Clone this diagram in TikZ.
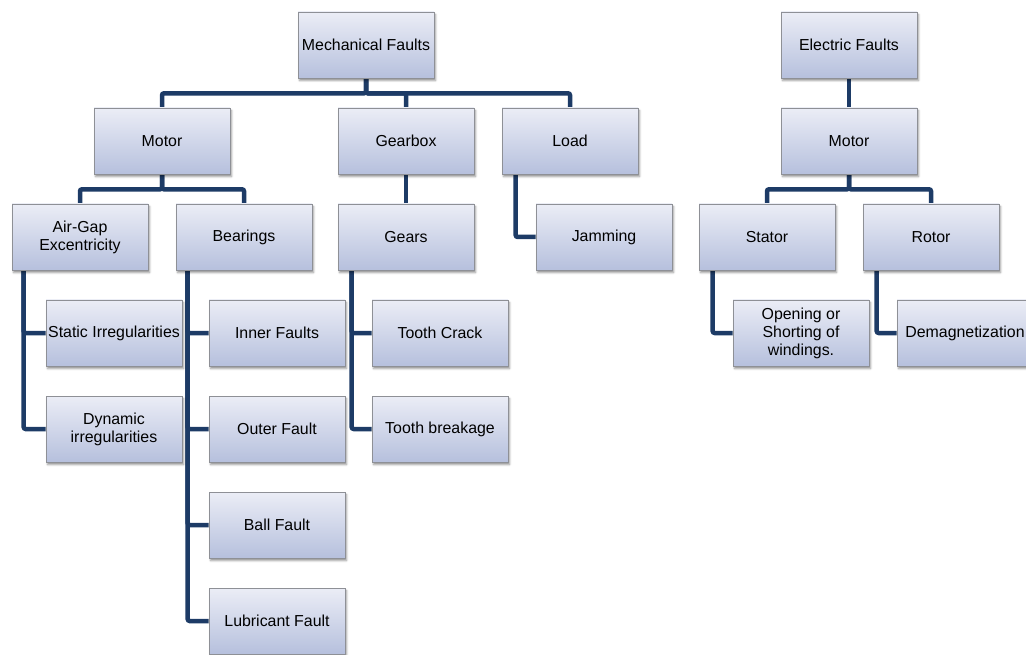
\documentclass[tikz,border=0pt]{standalone}
\usepackage{fontspec}
\setmainfont{Liberation Sans}
\usetikzlibrary{shadows.blur,backgrounds}
\definecolor{boxtop}{HTML}{EBEDF6}
\definecolor{boxbot}{HTML}{B6C0DD}
\definecolor{boxline}{HTML}{8E9096}
\definecolor{link}{HTML}{1D3B66}
\tikzset{
  fault/.style={rectangle, minimum width=136pt, minimum height=66pt, inner sep=0pt,
    draw=boxline, line width=0.6pt, top color=boxtop, bottom color=boxbot,
    align=center, font=\fontsize{15.9}{18}\selectfont,
    blur shadow={shadow xshift=1.5pt, shadow yshift=-2.5pt, shadow blur radius=2pt,
      shadow opacity=45}},
  linkline/.style={draw=link, line width=4.5pt, rounded corners=2pt}
}
\begin{document}
\begin{tikzpicture}[x=1pt, y=-1pt]
\useasboundingbox (0,0) rectangle (1026,655);

% boxes: mechanical branch
\node[fault] (mech)    at (366,45)  {Mechanical Faults};
\node[fault] (motorL)  at (162,141) {Motor};
\node[fault] (gearbox) at (406,141) {Gearbox};
\node[fault] (load)    at (570,141) {Load};
\node[fault] (airgap)  at (80,237)  {Air-Gap\\Excentricity};
\node[fault] (bear)    at (244,237) {Bearings};
\node[fault] (gears)   at (406,237) {Gears};
\node[fault] (jam)     at (604,237) {Jamming};
\node[fault] (static)  at (114,333) {Static Irregularities};
\node[fault] (dynamic) at (114,429) {Dynamic\\irregularities};
\node[fault] (inner)   at (277,333) {Inner Faults};
\node[fault] (outer)   at (277,429) {Outer Fault};
\node[fault] (ball)    at (277,525) {Ball Fault};
\node[fault] (lubr)    at (277,621) {Lubricant Fault};
\node[fault] (crack)   at (440,333) {Tooth Crack};
\node[fault] (brk)     at (440,429) {Tooth breakage};

% boxes: electric branch
\node[fault] (elec)    at (849,45)  {Electric Faults};
\node[fault] (motorR)  at (849,141) {Motor};
\node[fault] (stator)  at (767,237) {Stator};
\node[fault] (rotor)   at (931,237) {Rotor};
\node[fault] (open)    at (801,333) {Opening or\\Shorting of\\windings.};
\node[fault] (demag)   at (965,333) {Demagnetization};

% tree connectors, kept behind the boxes
\begin{scope}[on background layer]
  % top-level bus of the mechanical tree
  \path (mech.south) ++(0,15) coordinate (busM);
  \draw[linkline] (mech.south) -- (busM) -| (motorL.north);
  \draw[linkline] (mech.south) -- (busM) -| (gearbox.north);
  \draw[linkline] (mech.south) -- (busM) -| (load.north);
  % motor split
  \path (motorL.south) ++(0,15) coordinate (busL);
  \draw[linkline] (motorL.south) -- (busL) -| (airgap.north);
  \draw[linkline] (motorL.south) -- (busL) -| (bear.north);
  \draw[linkline] (gearbox.south) -- (gears.north);
  % side rails to the leaves
  \draw[linkline] ([xshift=14pt]load.south west) |- (jam.west);
  \draw[linkline] ([xshift=12pt]airgap.south west) |- (static.west);
  \draw[linkline] ([xshift=12pt]airgap.south west) |- (dynamic.west);
  \draw[linkline] ([xshift=12pt]bear.south west) |- (inner.west);
  \draw[linkline] ([xshift=12pt]bear.south west) |- (outer.west);
  \draw[linkline] ([xshift=12pt]bear.south west) |- (ball.west);
  \draw[linkline] ([xshift=12pt]bear.south west) |- (lubr.west);
  \draw[linkline] ([xshift=14pt]gears.south west) |- (crack.west);
  \draw[linkline] ([xshift=14pt]gears.south west) |- (brk.west);
  % electric tree
  \draw[linkline] (elec.south) -- (motorR.north);
  \path (motorR.south) ++(0,15) coordinate (busR);
  \draw[linkline] (motorR.south) -- (busR) -| (stator.north);
  \draw[linkline] (motorR.south) -- (busR) -| (rotor.north);
  \draw[linkline] ([xshift=14pt]stator.south west) |- (open.west);
  \draw[linkline] ([xshift=14pt]rotor.south west) |- (demag.west);
\end{scope}
\end{tikzpicture}
\end{document}
